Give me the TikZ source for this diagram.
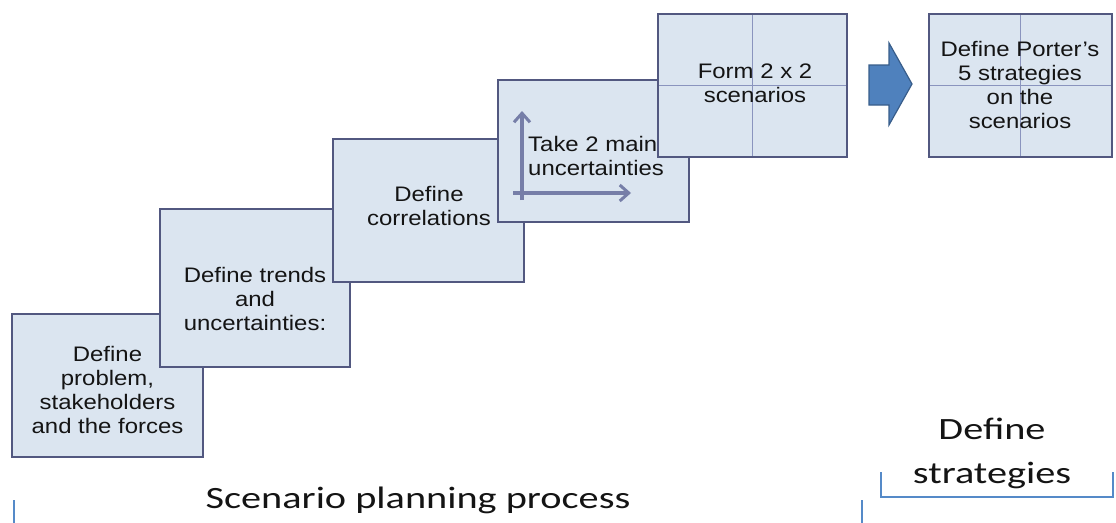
\documentclass[tikz,border=0pt]{standalone}
\usepackage{fontspec}
\usetikzlibrary{arrows.meta}
\newfontfamily\boxfont[FakeStretch=1.14]{Liberation Sans}
\newfontfamily\capfont[FakeStretch=1.3]{Carlito}
\definecolor{boxfill}{RGB}{219,229,240}
\definecolor{boxedge}{RGB}{82,88,128}
\definecolor{gridline}{RGB}{138,148,190}
\definecolor{axisline}{RGB}{118,126,168}
\definecolor{arrowfill}{RGB}{79,129,189}
\definecolor{arrowedge}{RGB}{56,93,138}
\definecolor{bracketline}{RGB}{85,138,200}
\definecolor{ink}{RGB}{20,20,20}
\tikzset{
  stepbox/.style={draw=boxedge, fill=boxfill, line width=2.6pt, anchor=north west, inner sep=0pt, outer sep=0pt},
  steptext/.style={font=\boxfont\fontsize{21}{24}\selectfont, text=ink, align=center, inner sep=0pt, anchor=base},
  quadline/.style={draw=gridline, line width=1.6pt},
  axis/.style={draw=axisline, line width=3.2pt, -{Straight Barb[length=9pt,width=16pt,line width=3pt]}},
  phasetext/.style={font=\capfont\fontsize{31}{44}\selectfont, text=ink, align=center, inner sep=0pt, anchor=base},
  bracket/.style={draw=bracketline, line width=2.8pt},
}
\begin{document}
\begin{tikzpicture}[x=1pt,y=-1pt]
\useasboundingbox (0,0) rectangle (1116,522);

% staircase of process steps, each overlapping the previous one
% (text nodes are placed by the baseline of their last line)
\node[stepbox, minimum width=191pt, minimum height=143pt] (b1) at (12,314) {};
\node[steptext] (t1) at (107.5,433) {Define\\problem,\\stakeholders\\and the forces};

\node[stepbox, minimum width=190pt, minimum height=158pt] (b2) at (160,209) {};
\node[steptext] (t2) at (255,330) {Define trends\\and\\uncertainties:};

\node[stepbox, minimum width=191pt, minimum height=143pt] (b3) at (333,139) {};
\node[steptext] (t3) at (429,225) {Define\\correlations};

\node[stepbox, minimum width=191pt, minimum height=142pt] (b4) at (498,80) {};
\coordinate (ax0) at (522,200);
\coordinate (ay1) at (522,111);
\coordinate (ax1) at (631,193);
\coordinate (ay0) at (513,193);
\draw[axis] (ax0) -- (ay1);
\draw[axis] (ay0) -- (ax1);
\node[steptext, anchor=base west, align=left] (t4) at (528,175) {Take 2 main\\uncertainties};

% 2 x 2 scenario grid
\node[stepbox, minimum width=189pt, minimum height=143pt] (b5) at (658,14) {};
\draw[quadline] (b5.north) -- (b5.south);
\draw[quadline] (b5.west) -- (b5.east);
\draw[boxedge, line width=2.6pt] (b5.north west) rectangle (b5.south east);
\node[steptext] (t5) at (755,102) {Form 2 x 2\\scenarios};

% block arrow leading to the strategy step
\fill[arrowfill, draw=arrowedge, line width=1.2pt]
  (869,65) -- (889,65) -- (889,43) -- (912,84) -- (889,125) -- (889,105) -- (869,105) -- cycle;

\node[stepbox, minimum width=183pt, minimum height=143pt] (b6) at (929,14) {};
\draw[quadline] (b6.north) -- (b6.south);
\draw[quadline] (b6.west) -- (b6.east);
\draw[boxedge, line width=2.6pt] (b6.north west) rectangle (b6.south east);
\node[steptext] (t6) at (1020,128) {Define Porter’s\\5 strategies\\on the\\scenarios};

% phase labels with their brackets
\node[phasetext] (p1) at (418,508) {Scenario planning process};
\coordinate (l1) at (14,500);
\coordinate (r1) at (862,500);
\draw[bracket] (l1) -- ++(0,24);
\draw[bracket] (r1) -- ++(0,24);

\node[phasetext] (p2) at (992,483) {Define\\strategies};
\coordinate (l2) at (881,472);
\coordinate (r2) at (1113,472);
\draw[bracket] (l2) -- ++(0,25) -| (r2);
\end{tikzpicture}
\end{document}
